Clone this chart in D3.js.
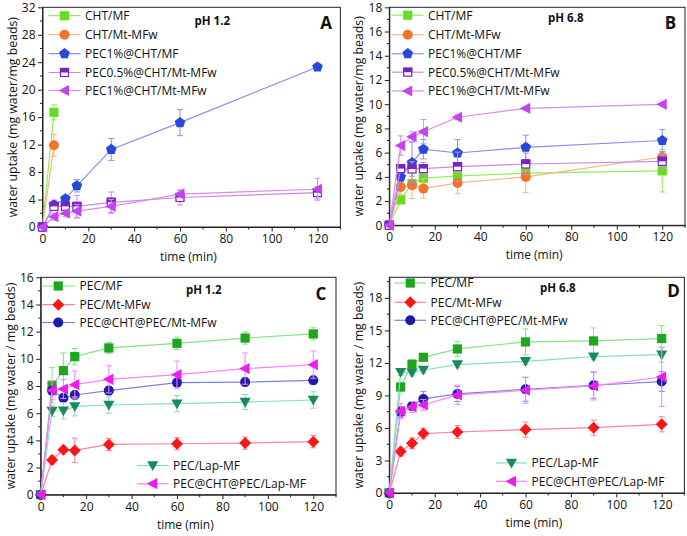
<!DOCTYPE html>
<html><head><meta charset="utf-8">
<script src="https://cdn.jsdelivr.net/npm/d3@7"></script>
<style>
body{margin:0;background:#fff;}
svg{display:block;font-family:"Open Sans",sans-serif;}
</style></head>
<body><svg id="c" width="687" height="536"></svg>
<script>
// ---------- DATA ----------
const timeShort = [0, 5];
const timeAB = [0, 5, 10, 15, 30, 60, 120];
const timeCD = [0, 5, 10, 15, 30, 60, 90, 120];

const seriesNamesAB = ["CHT/MF", "CHT/Mt-MFw", "PEC1%@CHT/MF", "PEC0.5%@CHT/Mt-MFw", "PEC1%@CHT/Mt-MFw"];
const seriesNamesCD = ["PEC/MF", "PEC/Mt-MFw", "PEC@CHT@PEC/Mt-MFw", "PEC/Lap-MF", "PEC@CHT@PEC/Lap-MF"];

// Panel A (pH 1.2)
const A_CHT_MF = [0, 16.7];           const A_CHT_MF_err = [0, 1.1];
const A_CHT_Mt = [0, 11.9];           const A_CHT_Mt_err = [0, 1.6];
const A_PEC1_MF = [0, 3.2, 4.1, 6.0, 11.3, 15.2, 23.3]; const A_PEC1_MF_err = [0, 0.7, 0.4, 0.9, 1.6, 1.9, 0.5];
const A_PEC05_Mt = [0, 3.0, 3.0, 3.0, 3.6, 4.3, 5.0];   const A_PEC05_Mt_err = [0, 0.5, 0.5, 1.6, 1.5, 1.1, 0.9];
const A_PEC1_Mt = [0, 1.5, 2.0, 2.3, 3.0, 4.8, 5.5];    const A_PEC1_Mt_err = [0, 0.5, 0.5, 1.0, 1.0, 0.5, 1.6];

// Panel B (pH 6.8)
const B_CHT_MF = [0, 2.1, 3.44, 3.9, 4.07, 4.3, 4.5];     const B_CHT_MF_err = [0, 0.3, 0.3, 0.4, 0.3, 0.4, 1.75];
const B_CHT_Mt = [0, 3.17, 3.3, 3.03, 3.5, 4.0, 5.64];    const B_CHT_Mt_err = [0, 0.6, 1.1, 0.8, 0.9, 1.3, 0.3];
const B_PEC1_MF = [0, 4.0, 5.17, 6.28, 5.97, 6.44, 7.0];  const B_PEC1_MF_err = [0, 0.4, 1.7, 0.8, 1.1, 1.0, 0.9];
const B_PEC05_Mt = [0, 4.68, 4.65, 4.68, 4.84, 5.06, 5.28]; const B_PEC05_Mt_err = [0, 0.3, 0.6, 0.5, 1.2, 0.9, 0.6];
const B_PEC1_Mt = [0, 6.58, 7.32, 7.73, 8.92, 9.66, 9.99]; const B_PEC1_Mt_err = [0, 0.8, 0.4, 1.0, 0.2, 0.1, 0.1];

// Panel C (pH 1.2)
const C_PEC_MF = [0, 8.05, 9.13, 10.16, 10.8, 11.14, 11.53, 11.83];   const C_PEC_MF_err = [0, 1.3, 1.3, 0.6, 0.4, 0.45, 0.45, 0.45];
const C_PEC_Mt = [0, 2.55, 3.31, 3.26, 3.7, 3.75, 3.8, 3.9];          const C_PEC_Mt_err = [0, 0.3, 0.2, 0.9, 0.45, 0.45, 0.45, 0.45];
const C_PEC_CHT_Mt = [0, 7.66, 7.12, 7.34, 7.66, 8.25, 8.29, 8.42];   const C_PEC_CHT_Mt_err = [0, 0.3, 0.3, 0.3, 0.3, 0.3, 0.3, 0.3];
const C_PEC_Lap = [0, 6.16, 6.18, 6.5, 6.6, 6.7, 6.82, 6.97];         const C_PEC_Lap_err = [0, 0.4, 0.6, 0.7, 0.6, 0.6, 0.55, 0.6];
const C_PEC_CHT_Lap = [0, 7.68, 7.78, 8.1, 8.49, 8.83, 9.28, 9.57];   const C_PEC_CHT_Lap_err = [0, 0.7, 0.7, 1.0, 1.0, 1.0, 1.15, 1.0];

// Panel D (pH 6.8)
const D_PEC_MF = [0, 9.78, 11.88, 12.52, 13.29, 13.94, 14.03, 14.25]; const D_PEC_MF_err = [0, 0.4, 0.4, 0.3, 0.7, 1.2, 1.2, 1.2];
const D_PEC_Mt = [0, 3.82, 4.58, 5.48, 5.63, 5.85, 6.03, 6.34];       const D_PEC_Mt_err = [0, 0.4, 0.5, 0.5, 0.6, 0.7, 0.7, 0.7];
const D_PEC_CHT_Mt = [0, 7.48, 8.03, 8.68, 9.14, 9.57, 9.94, 10.28];  const D_PEC_CHT_Mt_err = [0, 0.5, 0.4, 0.7, 0.7, 1.1, 1.2, 0.9];
const D_PEC_Lap = [0, 11.14, 11.1, 11.35, 11.85, 12.15, 12.58, 12.77]; const D_PEC_Lap_err = [0, 0.3, 0.3, 0.3, 0.3, 0.3, 0.3, 0.7];
const D_PEC_CHT_Lap = [0, 7.54, 7.94, 8.12, 9.05, 9.48, 9.88, 10.7];  const D_PEC_CHT_Lap_err = [0, 0.7, 0.5, 0.5, 0.9, 1.2, 1.3, 2.7];

const xTicks = [0, 20, 40, 60, 80, 100, 120];
const yTicksA = [0, 4, 8, 12, 16, 20, 24, 28, 32];
const yTicksB = [0, 2, 4, 6, 8, 10, 12, 14, 16, 18];
const yTicksC = [0, 2, 4, 6, 8, 10, 12, 14, 16];
const yTicksD = [0, 3, 6, 9, 12, 15, 18];

// ---------- STYLE ----------
const styleAB = [
  {shape: "square", fill: "#66dd22", line: "#8fec5c"},
  {shape: "circle", fill: "#f4722b", line: "#f8b486"},
  {shape: "pentagon", fill: "#2748d8", line: "#8c8ee8"},
  {shape: "halfsquare", fill: "#7524c8", line: "#c88aea"},
  {shape: "left", fill: "#c244ee", line: "#d98af4"}
];
const styleCD = [
  {shape: "square", fill: "#1fa51f", line: "#7ee87e"},
  {shape: "diamond", fill: "#ff1515", line: "#ff80a8"},
  {shape: "circle", fill: "#1c1ca8", line: "#8080e0"},
  {shape: "down", fill: "#1a8a5c", line: "#80e0bf"},
  {shape: "left", fill: "#ec1cec", line: "#ff80ff"}
];

const svg = d3.select("#c");

function drawMarker(g, shape, color, x, y) {
  const r = 4.6;
  if (shape === "square") {
    g.append("rect").attr("x", x - r).attr("y", y - r).attr("width", 2*r).attr("height", 2*r).attr("fill", color);
  } else if (shape === "halfsquare") {
    g.append("rect").attr("x", x - r + 0.6).attr("y", y - r + 0.6).attr("width", 2*r - 1.2).attr("height", 2*r - 1.2)
      .attr("fill", "#fff").attr("stroke", color).attr("stroke-width", 1.2);
    g.append("rect").attr("x", x - r).attr("y", y - r).attr("width", 2*r).attr("height", r).attr("fill", color);
  } else if (shape === "circle") {
    g.append("circle").attr("cx", x).attr("cy", y).attr("r", 5).attr("fill", color);
  } else if (shape === "pentagon") {
    const R = 5.6;
    const pts = d3.range(5).map(i => {
      const a = -Math.PI/2 + i*2*Math.PI/5;
      return [x + R*Math.cos(a), y + R*Math.sin(a)];
    });
    g.append("polygon").attr("points", pts.map(p => p.join(",")).join(" ")).attr("fill", color);
  } else if (shape === "left") {
    g.append("polygon").attr("points", [[x-6, y], [x+4.5, y-5.6], [x+4.5, y+5.6]].map(p => p.join(",")).join(" ")).attr("fill", color);
  } else if (shape === "down") {
    g.append("polygon").attr("points", [[x-5.6, y-4.2], [x+5.6, y-4.2], [x, y+5.6]].map(p => p.join(",")).join(" ")).attr("fill", color);
  } else if (shape === "diamond") {
    g.append("polygon").attr("points", [[x, y-6], [x+6, y], [x, y+6], [x-6, y]].map(p => p.join(",")).join(" ")).attr("fill", color);
  }
}

function panel(cfg) {
  const g = svg.append("g");
  const x = d3.scaleLinear().domain([0, 130]).range([cfg.x0, cfg.x1]);
  const y = d3.scaleLinear().domain([0, cfg.ymax]).range([cfg.y0, cfg.y1]);

  // box
  g.append("rect").attr("x", cfg.x0).attr("y", cfg.y1).attr("width", cfg.x1 - cfg.x0).attr("height", cfg.y0 - cfg.y1)
    .attr("fill", "none").attr("stroke", "#222").attr("stroke-width", 1);

  // minor ticks
  const xMinor = d3.range(10, 131, 20);
  g.append("g").selectAll("line").data(xMinor).join("line")
    .attr("x1", d => x(d)).attr("x2", d => x(d)).attr("y1", cfg.y0).attr("y2", cfg.y0 + 2.5).attr("stroke", "#222");
  const yMinor = cfg.yTicks.slice(0, -1).map((t, i) => (t + cfg.yTicks[i+1]) / 2);
  if (cfg.extraMinor) yMinor.push(cfg.extraMinor);
  g.append("g").selectAll("line").data(yMinor).join("line")
    .attr("x1", cfg.x0 - 2.5).attr("x2", cfg.x0).attr("y1", d => y(d)).attr("y2", d => y(d)).attr("stroke", "#222");

  const xa = g.append("g").attr("transform", `translate(0,${cfg.y0})`)
    .call(d3.axisBottom(x).tickValues(xTicks).tickSize(4.5).tickSizeOuter(0).tickPadding(3));
  const ya = g.append("g").attr("transform", `translate(${cfg.x0},0)`)
    .call(d3.axisLeft(y).tickValues(cfg.yTicks).tickSize(4.5).tickSizeOuter(0).tickPadding(2.5));
  [xa, ya].forEach(a => {
    a.select(".domain").attr("stroke", "#222");
    a.selectAll(".tick line").attr("stroke", "#222");
    a.selectAll("text").attr("font-size", 12).attr("font-family", "Open Sans").attr("fill", "#111");
  });

  // axis titles
  g.append("text").attr("x", (cfg.x0 + cfg.x1) / 2 - 3).attr("y", cfg.y0 + 34).attr("text-anchor", "middle")
    .attr("font-size", 12).attr("fill", "#111").text("time (min)");
  g.append("text").attr("transform", `translate(${cfg.x0 - 26},${(cfg.y0 + cfg.y1) / 2}) rotate(-90)`)
    .attr("text-anchor", "middle").attr("font-size", 12.3).attr("fill", "#111").text(cfg.ytitle);

  // series
  cfg.series.forEach((s, i) => {
    const st = cfg.styles[i];
    const pts = s.t.map((t, j) => ({t: t, v: s.v[j], e: s.e[j]}));
    const sg = g.append("g");
    sg.append("path").datum(pts).attr("fill", "none").attr("stroke", st.line).attr("stroke-width", 1.2)
      .attr("d", d3.line().x(d => x(d.t)).y(d => y(d.v)));
    pts.filter(d => d.e > 0).forEach(d => {
      sg.append("line").attr("x1", x(d.t)).attr("x2", x(d.t)).attr("y1", y(d.v - d.e)).attr("y2", y(d.v + d.e))
        .attr("stroke", st.line).attr("stroke-width", 1);
      [d.v - d.e, d.v + d.e].forEach(v => sg.append("line").attr("x1", x(d.t) - 3).attr("x2", x(d.t) + 3)
        .attr("y1", y(v)).attr("y2", y(v)).attr("stroke", st.line).attr("stroke-width", 1));
    });
    pts.forEach(d => drawMarker(sg, st.shape, st.fill, x(d.t), y(d.v)));
  });

  // legend
  cfg.legend.forEach(L => {
    const st = cfg.styles[L.i];
    g.append("line").attr("x1", L.lx0).attr("x2", L.lx1).attr("y1", L.y).attr("y2", L.y).attr("stroke", st.line).attr("stroke-width", 1.2);
    drawMarker(g, st.shape, st.fill, (L.lx0 + L.lx1) / 2, L.y);
    g.append("text").attr("x", L.lx1 + 4.5).attr("y", L.y + 4.3).attr("font-size", 12).attr("fill", "#111").text(cfg.names[L.i]);
  });

  g.append("text").attr("x", cfg.phX).attr("y", cfg.phY).attr("font-size", 11.5).attr("font-weight", "bold").attr("fill", "#111").text(cfg.ph);
  g.append("text").attr("x", cfg.letX).attr("y", cfg.letY).attr("text-anchor", "middle").attr("font-size", 17).attr("font-weight", "bold").attr("fill", "#111").text(cfg.letter);
}

function legendRows(ys, lx0, lx1, start) {
  return ys.map((yy, k) => ({i: start + k, y: yy, lx0: lx0, lx1: lx1}));
}

const tAB = [timeShort, timeShort, timeAB, timeAB, timeAB];

panel({
  x0: 42.5, x1: 340.4, y0: 227, y1: 7.3, ymax: 32, yTicks: yTicksA,
  ytitle: "water uptake (mg water/mg beads)", names: seriesNamesAB, styles: styleAB,
  series: [
    {t: tAB[0], v: A_CHT_MF, e: A_CHT_MF_err},
    {t: tAB[1], v: A_CHT_Mt, e: A_CHT_Mt_err},
    {t: tAB[2], v: A_PEC1_MF, e: A_PEC1_MF_err},
    {t: tAB[3], v: A_PEC05_Mt, e: A_PEC05_Mt_err},
    {t: tAB[4], v: A_PEC1_Mt, e: A_PEC1_Mt_err}
  ],
  legend: legendRows([15.7, 34.7, 53.7, 72.5, 90.5], 48.5, 80.5, 0),
  ph: "pH 1.2", phX: 194.5, phY: 24.5, letter: "A", letX: 326, letY: 29
});

panel({
  x0: 389.3, x1: 685, y0: 225.3, y1: 7.3, ymax: 18, yTicks: yTicksB,
  ytitle: "water uptake (mg water/mg beads)", names: seriesNamesAB, styles: styleAB,
  series: [
    {t: timeAB, v: B_CHT_MF, e: B_CHT_MF_err},
    {t: timeAB, v: B_CHT_Mt, e: B_CHT_Mt_err},
    {t: timeAB, v: B_PEC1_MF, e: B_PEC1_MF_err},
    {t: timeAB, v: B_PEC05_Mt, e: B_PEC05_Mt_err},
    {t: timeAB, v: B_PEC1_Mt, e: B_PEC1_Mt_err}
  ],
  legend: legendRows([15.2, 34.7, 53.7, 72.2, 91], 392, 423.5, 0),
  ph: "pH 6.8", phX: 548, phY: 21.5, letter: "B", letX: 670.5, letY: 29
});

panel({
  x0: 40.7, x1: 336, y0: 494.7, y1: 277.3, ymax: 16, yTicks: yTicksC,
  ytitle: "water uptake (mg water / mg beads)", names: seriesNamesCD, styles: styleCD,
  series: [
    {t: timeCD, v: C_PEC_MF, e: C_PEC_MF_err},
    {t: timeCD, v: C_PEC_Mt, e: C_PEC_Mt_err},
    {t: timeCD, v: C_PEC_CHT_Mt, e: C_PEC_CHT_Mt_err},
    {t: timeCD, v: C_PEC_Lap, e: C_PEC_Lap_err},
    {t: timeCD, v: C_PEC_CHT_Lap, e: C_PEC_CHT_Lap_err}
  ],
  legend: legendRows([286, 304.7, 322.5], 41.5, 75, 0).concat(legendRows([465.5, 483.7], 137, 168.5, 3)),
  ph: "pH 1.2", phX: 186, phY: 294, letter: "C", letX: 321, letY: 300
});

panel({
  x0: 389.3, x1: 684.4, y0: 493, y1: 277.3, ymax: 19.9, yTicks: yTicksD, extraMinor: 19.5,
  ytitle: "water uptake (mg water / mg beads)", names: seriesNamesCD, styles: styleCD,
  series: [
    {t: timeCD, v: D_PEC_MF, e: D_PEC_MF_err},
    {t: timeCD, v: D_PEC_Mt, e: D_PEC_Mt_err},
    {t: timeCD, v: D_PEC_CHT_Mt, e: D_PEC_CHT_Mt_err},
    {t: timeCD, v: D_PEC_Lap, e: D_PEC_Lap_err},
    {t: timeCD, v: D_PEC_CHT_Lap, e: D_PEC_CHT_Lap_err}
  ],
  legend: legendRows([283, 302.3, 320.3], 394.5, 426, 0).concat(legendRows([463, 481.3], 496, 527, 3)),
  ph: "pH 6.8", phX: 540, phY: 292, letter: "D", letX: 673.5, letY: 297
});
</script></body></html>
